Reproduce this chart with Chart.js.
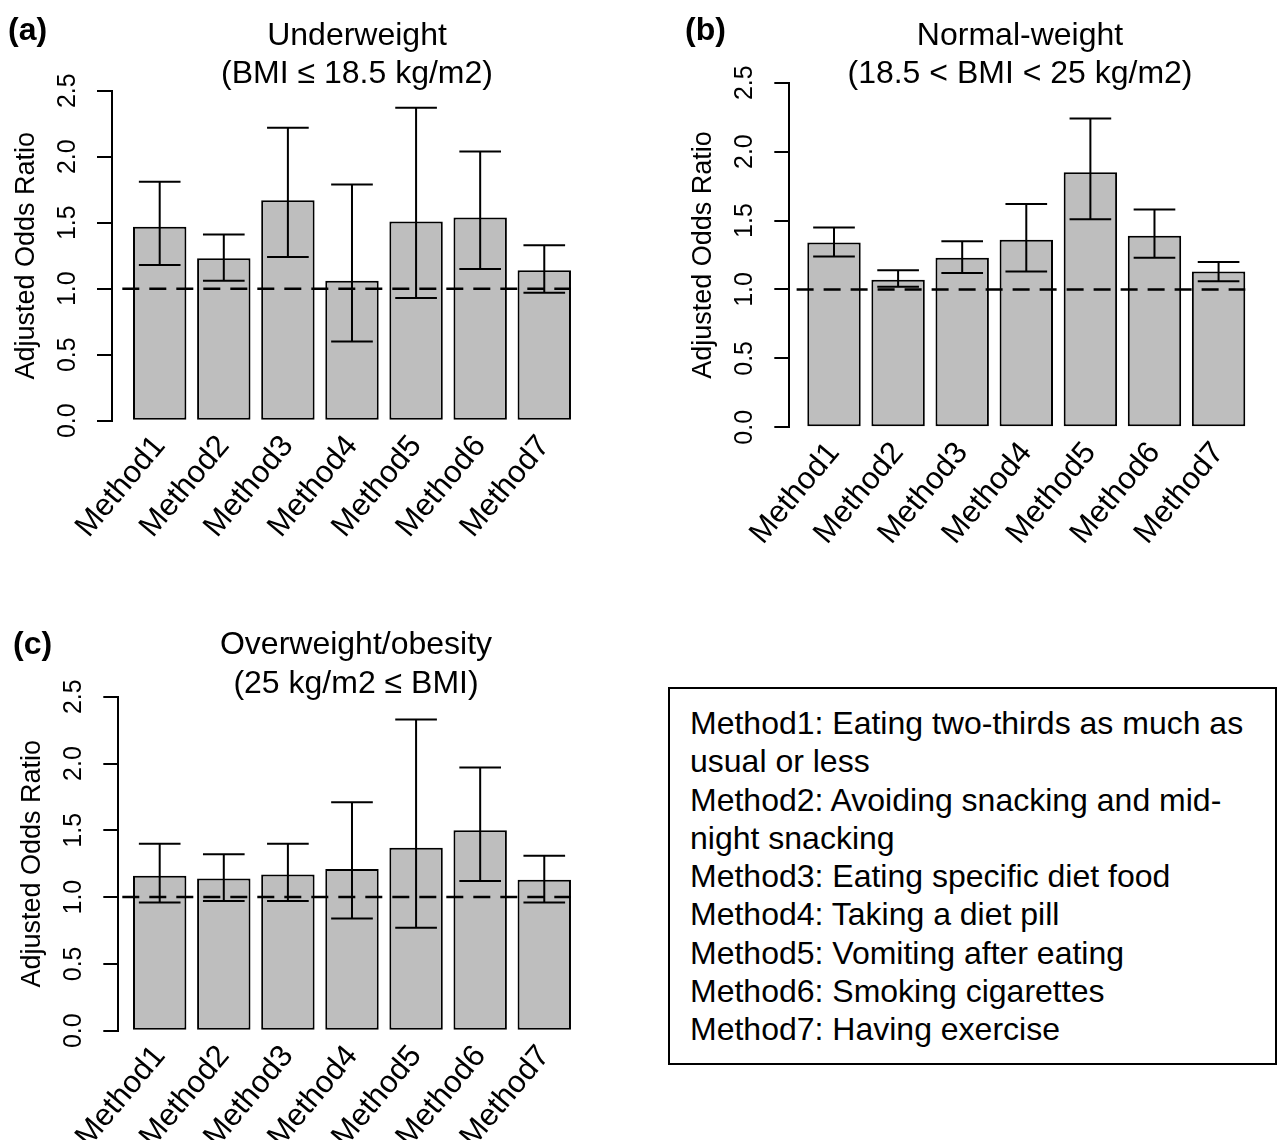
<!DOCTYPE html>
<html>
<head>
<meta charset="utf-8">
<script src="https://cdn.jsdelivr.net/npm/chart.js@4.4.1/dist/chart.umd.min.js"></script>
<style>
html, body { margin: 0; padding: 0; background: #fff; }
body { width: 1281px; height: 1140px; position: relative; overflow: hidden; font-family: "Liberation Sans", Arial, sans-serif; }
.panel { position: absolute; }
#legendBox { position: absolute; left: 668px; top: 687px; width: 609px; height: 378px; box-sizing: border-box;
  border: 2px solid #000; padding: 15px 0 0 20px; font-size: 32px; line-height: 38.3px; color: #000; }
#legendBox .txt { width: 565px; }
</style>
</head>
<body>
<div class="panel" id="boxA"><canvas id="chartA"></canvas></div>
<div class="panel" id="boxB"><canvas id="chartB"></canvas></div>
<div class="panel" id="boxC"><canvas id="chartC"></canvas></div>
<div id="legendBox"><div class="txt" id="legendText"></div></div>
<script>
// categories
const methods = ['Method1', 'Method2', 'Method3', 'Method4', 'Method5', 'Method6', 'Method7'];

// (a) underweight: adjusted OR and 95% CI
const underOR = [1.47, 1.23, 1.67, 1.06, 1.51, 1.54, 1.14];
const underLo = [1.18, 1.06, 1.24, 0.60, 0.93, 1.15, 0.97];
const underHi = [1.81, 1.41, 2.22, 1.79, 2.37, 2.04, 1.33];

// (b) normal weight
const normalOR = [1.34, 1.07, 1.23, 1.36, 1.85, 1.39, 1.13];
const normalLo = [1.24, 1.02, 1.12, 1.13, 1.51, 1.23, 1.06];
const normalHi = [1.45, 1.14, 1.35, 1.62, 2.24, 1.58, 1.20];

// (c) overweight / obesity
const overOR = [1.16, 1.14, 1.17, 1.21, 1.37, 1.50, 1.13];
const overLo = [0.96, 0.97, 0.97, 0.84, 0.77, 1.12, 0.96];
const overHi = [1.40, 1.32, 1.40, 1.71, 2.33, 1.97, 1.31];

const yTicks = [0, 0.5, 1.0, 1.5, 2.0, 2.5];
const refLine = 1.0;

const legendLines = [
  'Method1: Eating two-thirds as much as usual or less',
  'Method2: Avoiding snacking and mid-night snacking',
  'Method3: Eating specific diet food',
  'Method4: Taking a diet pill',
  'Method5: Vomiting after eating',
  'Method6: Smoking cigarettes',
  'Method7: Having exercise'
];

const FONT = '"Liberation Sans", Arial, sans-serif';
Chart.defaults.font.family = FONT;
Chart.defaults.color = '#000';

// bar centres like R barplot (width 1, space 0.2)
const barX = methods.map((m, i) => 0.7 + 1.2 * i);

const panels = [
  { canvas: 'chartA', holder: 'boxA', tag: '(a)', title: ['Underweight', '(BMI \u2264 18.5 kg/m2)'],
    or: underOR, lo: underLo, hi: underHi,
    box: { left: 0, top: 0, width: 640, height: 590 },
    area: { left: 112, right: 588.5, top: 90.7, bottom: 420.7 }, xMin: -0.193, xMax: 8.728,
    titleX: 357, titleY: [45, 83], tagX: 8, tagY: 40 },
  { canvas: 'chartB', holder: 'boxB', tag: '(b)', title: ['Normal-weight', '(18.5 < BMI < 25 kg/m2)'],
    or: normalOR, lo: normalLo, hi: normalHi,
    box: { left: 640, top: 0, width: 641, height: 590 },
    area: { left: 149.3, right: 622.8, top: 82.7, bottom: 427.3 }, xMin: -0.137, xMax: 8.728,
    titleX: 380, titleY: [45, 83], tagX: 45, tagY: 40 },
  { canvas: 'chartC', holder: 'boxC', tag: '(c)', title: ['Overweight/obesity', '(25 kg/m2 \u2264 BMI)'],
    or: overOR, lo: overLo, hi: overHi,
    box: { left: 0, top: 600, width: 640, height: 540 },
    area: { left: 118.3, right: 588.5, top: 96.7, bottom: 430.7 }, xMin: -0.075, xMax: 8.728,
    titleX: 356, titleY: [54, 93], tagX: 13, tagY: 54 }
];

function makeDecor(p) {
  return {
    id: 'decor',
    afterDatasetsDraw(chart) {
      const ctx = chart.ctx;
      const xs = chart.scales.x, ys = chart.scales.y;
      const ca = chart.chartArea;
      ctx.save();
      // dashed reference line at OR = 1
      const y1 = ys.getPixelForValue(refLine);
      ctx.strokeStyle = '#000';
      ctx.lineWidth = 2.5;
      ctx.setLineDash([17, 10]);
      ctx.beginPath();
      ctx.moveTo(xs.getPixelForValue(0), y1);
      ctx.lineTo(xs.getPixelForValue(barX[barX.length - 1] + 0.5), y1);
      ctx.stroke();
      ctx.setLineDash([]);
      // error bars
      ctx.lineWidth = 2;
      barX.forEach((bx, i) => {
        const x = xs.getPixelForValue(bx);
        const half = xs.getPixelForValue(bx + 0.39) - x;
        const yl = ys.getPixelForValue(p.lo[i]);
        const yh = ys.getPixelForValue(p.hi[i]);
        ctx.beginPath();
        ctx.moveTo(x, yl); ctx.lineTo(x, yh);
        ctx.moveTo(x - half, yl); ctx.lineTo(x + half, yl);
        ctx.moveTo(x - half, yh); ctx.lineTo(x + half, yh);
        ctx.stroke();
      });
      // y tick labels, parallel to axis
      ctx.fillStyle = '#000';
      ctx.font = '25px ' + FONT;
      ctx.textAlign = 'center';
      ctx.textBaseline = 'alphabetic';
      yTicks.forEach(v => {
        ctx.save();
        ctx.translate(ca.left - 37, ys.getPixelForValue(v));
        ctx.rotate(-Math.PI / 2);
        ctx.fillText(v.toFixed(1), 0, 0);
        ctx.restore();
      });
      // y axis title
      ctx.font = '27px ' + FONT;
      ctx.save();
      ctx.translate(ca.left - 78, (ca.top + ca.bottom) / 2);
      ctx.rotate(-Math.PI / 2);
      ctx.fillText('Adjusted Odds Ratio', 0, 0);
      ctx.restore();
      // title
      ctx.font = '32px ' + FONT;
      p.title.forEach((t, k) => ctx.fillText(t, p.titleX, p.titleY[k]));
      // panel tag
      ctx.font = 'bold 32px ' + FONT;
      ctx.textAlign = 'left';
      ctx.fillText(p.tag, p.tagX, p.tagY);
      ctx.restore();
    }
  };
}

panels.forEach(p => {
  const holder = document.getElementById(p.holder);
  holder.style.left = p.box.left + 'px';
  holder.style.top = p.box.top + 'px';
  const cv = document.getElementById(p.canvas);
  cv.width = p.box.width;
  cv.height = p.box.height;
  cv.style.width = p.box.width + 'px';
  cv.style.height = p.box.height + 'px';

  new Chart(cv, {
    type: 'bar',
    data: {
      datasets: [{
        data: barX.map((x, i) => ({ x: x, y: p.or[i] })),
        backgroundColor: '#bebebe',
        borderColor: '#000',
        borderWidth: 2,
        borderSkipped: false,
        categoryPercentage: 1,
        barPercentage: 1 / 1.2
      }]
    },
    options: {
      responsive: false,
      animation: false,
      devicePixelRatio: 1,
      layout: {
        autoPadding: false,
        padding: { top: p.area.top, right: p.box.width - p.area.right, left: 0, bottom: 0 }
      },
      plugins: { legend: { display: false }, title: { display: false }, tooltip: { enabled: false } },
      scales: {
        x: {
          type: 'linear',
          offset: false,
          min: p.xMin,
          max: p.xMax,
          grid: { display: false, drawTicks: false },
          border: { display: false },
          afterBuildTicks: s => { s.ticks = barX.map(v => ({ value: v })); },
          ticks: {
            autoSkip: false,
            minRotation: 50,
            maxRotation: 50,
            padding: 8,
            color: '#000',
            font: { size: 31 },
            callback: (v, i) => methods[i]
          },
          afterFit: s => { s.height = p.box.height - p.area.bottom; }
        },
        y: {
          min: 0,
          max: 2.5,
          afterBuildTicks: s => { s.ticks = yTicks.map(v => ({ value: v })); },
          ticks: { display: false },
          grid: { drawOnChartArea: false, drawTicks: true, tickLength: 15, color: '#000', lineWidth: 2 },
          border: { display: true, color: '#000', width: 2 },
          afterFit: s => { s.width = p.area.left; }
        }
      }
    },
    plugins: [makeDecor(p)]
  });
});

const lt = document.getElementById('legendText');
legendLines.forEach(t => {
  const d = document.createElement('div');
  d.textContent = t;
  lt.appendChild(d);
});
</script>
</body>
</html>
